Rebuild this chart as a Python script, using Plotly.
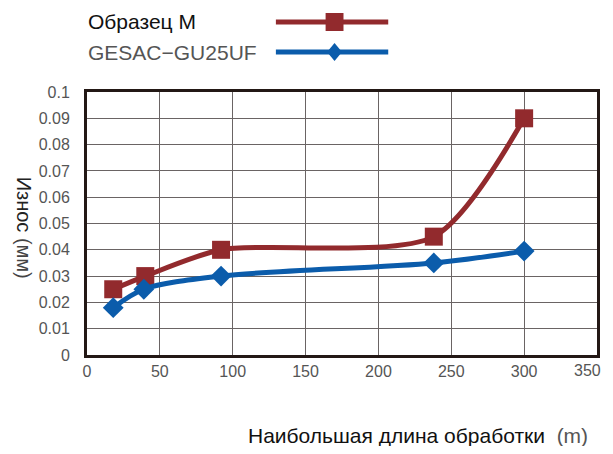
import plotly.graph_objects as go

# Data
length_m = [18, 40, 92, 238, 300]
sample_m = [0.025, 0.030, 0.040, 0.045, 0.090]
length_g = [18, 39, 92, 238, 300]
gesac = [0.018, 0.025, 0.030, 0.035, 0.0395]
series_names = ["Образец M", "GESAC\u2212GU25UF"]
x_ticks = [0, 50, 100, 150, 200, 250, 300, 350]
y_ticks = [0, 0.01, 0.02, 0.03, 0.04, 0.05, 0.06, 0.07, 0.08, 0.09, 0.1]
y_ticktext = ["0", "0.01", "0.02", "0.03", "0.04", "0.05", "0.06", "0.07", "0.08", "0.09", "0.1"]

RED = "#922a2d"
BLUE = "#0b5cab"
FONT = "Liberation Sans, Arial, sans-serif"

OFF = 8  # page body margin
W, H = 613 - 2 * OFF, 454 - 2 * OFF
# target plot area in page pixels: x 87..600, y 92..355
L = 87 - OFF
T = 92 - OFF
R = W - (600 - OFF)
B = H - (355 - OFF)

fig = go.Figure()
fig.add_trace(go.Scatter(
    x=length_m, y=sample_m, mode="lines+markers", name=series_names[0],
    line=dict(color=RED, width=5, shape="spline", smoothing=0.75),
    marker=dict(symbol="square", size=18, color=RED),
    showlegend=False))
fig.add_trace(go.Scatter(
    x=length_g, y=gesac, mode="lines+markers", name=series_names[1],
    line=dict(color=BLUE, width=5, shape="spline", smoothing=0.9),
    marker=dict(symbol="diamond", size=16, color=BLUE),
    showlegend=False))


def px(xp):
    return (xp - OFF - L) / (W - L - R)


def py(yp):
    return (H - B - (yp - OFF)) / (H - T - B)


# Manual legend
leg = [(series_names[0], RED, 22, "#111111", "sq"), (series_names[1], BLUE, 52, "#555555", "dia")]
for name, col, yy, tcol, sym in leg:
    fig.add_annotation(xref="paper", yref="paper", x=px(86), y=py(yy), text=name,
                       showarrow=False, xanchor="left", yanchor="middle",
                       font=dict(family=FONT, size=21, color=tcol))
    fig.add_shape(type="line", xref="paper", yref="paper",
                  x0=px(277), x1=px(390), y0=py(yy), y1=py(yy),
                  line=dict(color=col, width=5))
    cx = 336
    if sym == "sq":
        fig.add_shape(type="rect", xref="paper", yref="paper",
                      x0=px(cx - 9), x1=px(cx + 9), y0=py(yy - 9), y1=py(yy + 9),
                      fillcolor=col, line=dict(width=0))
    else:
        path = "M {} {} L {} {} L {} {} L {} {} Z".format(
            px(cx), py(yy - 9), px(cx + 7.5), py(yy), px(cx), py(yy + 9), px(cx - 7.5), py(yy))
        fig.add_shape(type="path", xref="paper", yref="paper", path=path,
                      fillcolor=col, line=dict(width=0))

# Axis titles
fig.add_annotation(xref="paper", yref="paper", x=px(593), y=py(435),
                   text="Наибольшая длина обработки  <span style='color:#555555'>(m)</span>",
                   showarrow=False, xanchor="right", yanchor="middle",
                   font=dict(family=FONT, size=21, color="#111111"))
fig.add_annotation(xref="paper", yref="paper", x=px(24), y=py(228),
                   text="Износ <span style='color:#444444'>(мм)</span>", showarrow=False, textangle=90,
                   xanchor="center", yanchor="middle",
                   font=dict(family=FONT, size=20, color="#222222"))

# last x tick label placed as annotation so it stays inside the page
x_ticktext = [str(v) for v in x_ticks[:-1]] + [""]
fig.add_annotation(xref="x", yref="paper", x=x_ticks[-1], y=py(370), text=str(x_ticks[-1]),
                   showarrow=False, xanchor="right", xshift=5, yanchor="middle", borderpad=0,
                   font=dict(family=FONT, size=16, color="#555555"))

fig.update_layout(
    width=W, height=H,
    margin=dict(l=L, r=R, t=T, b=B),
    paper_bgcolor="white", plot_bgcolor="white",
    font=dict(family=FONT, size=16, color="#555555"),
    showlegend=False,
)
fig.update_xaxes(range=[0, 350], tickvals=x_ticks, ticktext=x_ticktext,
                 showgrid=True, gridcolor="#6a6464", gridwidth=1,
                 showline=True, mirror=True, linecolor="#231815", linewidth=3,
                 ticks="", ticklabelstandoff=0, zeroline=False,
                 tickfont=dict(family=FONT, size=16, color="#555555"))
fig.update_yaxes(range=[0, 0.1], tickvals=y_ticks, ticktext=y_ticktext,
                 showgrid=True, gridcolor="#6a6464", gridwidth=1,
                 showline=True, mirror=True, linecolor="#231815", linewidth=3,
                 ticks="", ticklabelstandoff=11, zeroline=False,
                 tickfont=dict(family=FONT, size=16, color="#555555"))

fig.write_html("out.html")
